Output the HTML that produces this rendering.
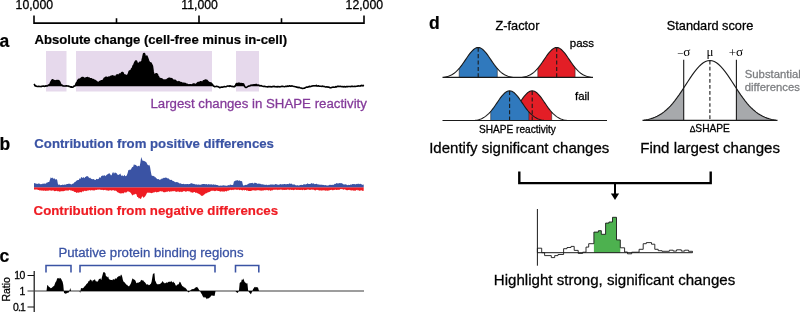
<!DOCTYPE html>
<html lang="en">
<head>
<meta charset="utf-8">
<title>SHAPE reactivity differences</title>
<style>
html,body{margin:0;padding:0;background:#fff;}
body{width:800px;height:312px;overflow:hidden;}
svg{display:block;font-family:"Liberation Sans", Arial, Helvetica, sans-serif;}
</style>
</head>
<body>
<svg width="800" height="312" viewBox="0 0 800 312">
<rect width="800" height="312" fill="#fff"/>
<path d="M34 15.6V23.1H364V15.6M116.5 18.2V23.1M199 15.6V23.1M281.5 18.2V23.1" fill="none" stroke="#000" stroke-width="1.6"/>
<text x="34.3" y="9.4" font-size="12.25" text-anchor="middle" stroke="#000" stroke-width="0.28">10,000</text>
<text x="199.6" y="9.4" font-size="12.25" text-anchor="middle" stroke="#000" stroke-width="0.28">11,000</text>
<text x="364.3" y="9.4" font-size="12.25" text-anchor="middle" stroke="#000" stroke-width="0.28">12,000</text>
<rect x="46" y="51" width="20.5" height="40.5" fill="#e6d9ec"/>
<rect x="76" y="51" width="136" height="40.5" fill="#e6d9ec"/>
<rect x="236" y="51" width="23" height="40.5" fill="#e6d9ec"/>
<path d="M34,86.3 L34,84 L34.8,85.08 L35.6,85.93 L36.4,86.12 L37.2,86.3 L38.0,86.3 L38.8,86.3 L39.6,86.3 L40.4,86.3 L41.2,86.3 L42.0,86.12 L42.8,86.2 L43.6,85.99 L44.4,86.3 L45.2,86.2 L46.0,85.72 L46.8,85.99 L47.6,85.67 L48.4,85.16 L49.2,84.86 L50.0,84.26 L50.8,82.1 L51.6,80.83 L52.4,79.71 L53.2,80.1 L54.0,80.49 L54.8,80.68 L55.6,80.96 L56.4,80.65 L57.2,80.83 L58.0,80.57 L58.8,80.72 L59.6,81.74 L60.4,83.62 L61.2,85.02 L62.0,85.1 L62.8,85.77 L63.6,85.92 L64.4,85.95 L65.2,86.0 L66.0,85.89 L66.8,85.91 L67.6,86.03 L68.4,85.98 L69.2,86.3 L70.0,86.3 L70.8,86.3 L71.6,86.3 L72.4,86.3 L73.2,86.3 L74.0,86.1 L74.8,85.9 L75.6,84.91 L76.4,82.92 L77.2,81.93 L78.0,80.2 L78.8,79.36 L79.6,79.39 L80.4,79.09 L81.2,78.15 L82.0,77.55 L82.8,77.44 L83.6,77.94 L84.4,78.6 L85.2,78.46 L86.0,78.03 L86.8,77.71 L87.6,77.54 L88.4,78.56 L89.2,78.11 L90.0,78.76 L90.8,78.89 L91.6,78.92 L92.4,79.79 L93.2,79.53 L94.0,80.39 L94.8,80.25 L95.6,81.07 L96.4,81.48 L97.2,82.17 L98.0,82.79 L98.8,82.34 L99.6,81.59 L100.4,81.78 L101.2,80.86 L102.0,80.67 L102.8,80.73 L103.6,79.66 L104.4,78.12 L105.2,78.19 L106.0,77.14 L106.8,77.46 L107.6,77.98 L108.4,77.25 L109.2,77.11 L110.0,77.43 L110.8,76.38 L111.6,76.28 L112.4,75.87 L113.2,76.66 L114.0,76.15 L114.8,77.61 L115.6,77.34 L116.4,75.38 L117.2,74.82 L118.0,76.06 L118.8,74.96 L119.6,74.07 L120.4,74.23 L121.2,73.56 L122.0,72.45 L122.8,72.54 L123.6,74.18 L124.4,75.15 L125.2,74.94 L126.0,75.96 L126.8,75.57 L127.6,75.31 L128.4,74.0 L129.2,71.48 L130.0,70.81 L130.8,71.18 L131.6,68.82 L132.4,68.23 L133.2,65.8 L134.0,64.63 L134.8,62.52 L135.6,61.05 L136.4,61.01 L137.2,63.24 L138.0,63.49 L138.8,63.68 L139.6,62.32 L140.4,62.33 L141.2,62.6 L142.0,60.69 L142.8,57.5 L143.6,53.86 L144.4,53.56 L145.2,55.98 L146.0,58.18 L146.8,55.96 L147.6,58.04 L148.4,60.29 L149.2,62.26 L150.0,63.39 L150.8,62.93 L151.6,64.46 L152.4,66.19 L153.2,71.91 L154.0,74.95 L154.8,75.01 L155.6,74.13 L156.4,73.87 L157.2,74.18 L158.0,76.11 L158.8,77.25 L159.6,79.2 L160.4,78.63 L161.2,78.9 L162.0,78.98 L162.8,79.92 L163.6,80.08 L164.4,80.34 L165.2,80.03 L166.0,80.29 L166.8,79.68 L167.6,79.0 L168.4,78.62 L169.2,78.38 L170.0,78.32 L170.8,78.92 L171.6,78.68 L172.4,79.44 L173.2,80.14 L174.0,80.45 L174.8,80.25 L175.6,80.76 L176.4,81.45 L177.2,81.96 L178.0,82.7 L178.8,81.7 L179.6,82.27 L180.4,82.85 L181.2,82.64 L182.0,82.98 L182.8,83.24 L183.6,83.25 L184.4,83.38 L185.2,83.45 L186.0,83.88 L186.8,84.19 L187.6,84.51 L188.4,85.18 L189.2,84.77 L190.0,85.27 L190.8,84.74 L191.6,85.09 L192.4,84.71 L193.2,84.02 L194.0,84.05 L194.8,84.3 L195.6,84.54 L196.4,84.45 L197.2,83.29 L198.0,82.61 L198.8,82.47 L199.6,82.45 L200.4,81.78 L201.2,81.86 L202.0,82.45 L202.8,81.84 L203.6,80.88 L204.4,80.74 L205.2,79.99 L206.0,80.36 L206.8,80.28 L207.6,81.19 L208.4,82.11 L209.2,82.63 L210.0,82.91 L210.8,82.93 L211.6,83.61 L212.4,84.63 L213.2,85.59 L214.0,86.3 L214.8,86.3 L215.6,86.3 L216.4,86.29 L217.2,86.3 L218.0,86.3 L218.8,86.3 L219.6,86.3 L220.4,86.3 L221.2,86.3 L222.0,86.3 L222.8,86.3 L223.6,86.3 L224.4,86.3 L225.2,86.3 L226.0,86.3 L226.8,86.3 L227.6,86.07 L228.4,85.96 L229.2,86.3 L230.0,85.72 L230.8,86.29 L231.6,86.3 L232.4,86.3 L233.2,86.3 L234.0,86.3 L234.8,86.3 L235.6,85.17 L236.4,83.47 L237.2,83.9 L238.0,83.4 L238.8,83.37 L239.6,83.34 L240.4,83.78 L241.2,83.6 L242.0,83.7 L242.8,83.8 L243.6,83.99 L244.4,85.96 L245.2,86.3 L246.0,86.3 L246.8,86.3 L247.6,86.3 L248.4,86.1 L249.2,85.98 L250.0,85.74 L250.8,85.2 L251.6,85.08 L252.4,84.94 L253.2,85.0 L254.0,84.75 L254.8,84.68 L255.6,84.65 L256.4,84.44 L257.2,84.96 L258.0,85.28 L258.8,84.97 L259.6,85.76 L260.4,85.82 L261.2,85.61 L262.0,85.97 L262.8,86.21 L263.6,86.3 L264.4,86.3 L265.2,86.3 L266.0,86.3 L266.8,86.3 L267.6,86.3 L268.4,86.3 L269.2,86.3 L270.0,86.3 L270.8,86.3 L271.6,86.3 L272.4,86.3 L273.2,86.3 L274.0,86.28 L274.8,86.3 L275.6,86.3 L276.4,86.3 L277.2,86.3 L278.0,86.3 L278.8,86.3 L279.6,86.3 L280.4,86.3 L281.2,86.3 L282.0,86.21 L282.8,86.3 L283.6,86.3 L284.4,86.3 L285.2,86.3 L286.0,86.18 L286.8,86.3 L287.6,85.99 L288.4,86.3 L289.2,85.88 L290.0,85.9 L290.8,86.23 L291.6,85.89 L292.4,85.95 L293.2,86.23 L294.0,86.3 L294.8,86.3 L295.6,86.3 L296.4,86.3 L297.2,86.3 L298.0,86.3 L298.8,86.3 L299.6,86.3 L300.4,86.3 L301.2,86.3 L302.0,86.3 L302.8,86.3 L303.6,86.3 L304.4,86.3 L305.2,86.3 L306.0,86.3 L306.8,86.3 L307.6,86.3 L308.4,86.3 L309.2,86.3 L310.0,86.3 L310.8,86.3 L311.6,86.15 L312.4,86.05 L313.2,85.69 L314.0,85.82 L314.8,85.72 L315.6,85.71 L316.4,85.36 L317.2,86.08 L318.0,85.91 L318.8,85.92 L319.6,86.24 L320.4,86.18 L321.2,86.21 L322.0,86.3 L322.8,86.12 L323.6,86.3 L324.4,86.3 L325.2,86.3 L326.0,86.3 L326.8,86.3 L327.6,86.3 L328.4,86.3 L329.2,86.3 L330.0,86.3 L330.8,86.3 L331.6,86.3 L332.4,86.3 L333.2,86.3 L334.0,86.3 L334.8,86.3 L335.6,86.3 L336.4,86.3 L337.2,86.3 L338.0,86.3 L338.8,86.3 L339.6,86.3 L340.4,86.3 L341.2,86.3 L342.0,86.3 L342.8,86.3 L343.6,86.3 L344.4,86.3 L345.2,86.3 L346.0,86.3 L346.8,86.3 L347.6,86.3 L348.4,86.3 L349.2,86.3 L350.0,86.3 L350.8,86.3 L351.6,86.3 L352.4,86.3 L353.2,86.3 L354.0,86.3 L354.8,86.3 L355.6,86.3 L356.4,86.23 L357.2,86.3 L358.0,85.83 L358.8,86.07 L359.6,86.03 L360.4,86.0 L361.2,85.5 L362.0,85.38 L362.8,85.7 L364,85.3 L364,86.3Z" fill="#000"/>
<path d="M34,84 34.8,85.08 35.6,85.93 36.4,86.12 37.2,86.5 38.0,86.55 38.8,86.31 39.6,86.51 40.4,86.55 41.2,86.6 42.0,86.12 42.8,86.2 43.6,85.99 44.4,86.35 45.2,86.2 46.0,85.72 46.8,85.99 47.6,85.67 48.4,85.16 49.2,84.86 50.0,84.26 50.8,82.1 51.6,80.83 52.4,79.71 53.2,80.1 54.0,80.49 54.8,80.68 55.6,80.96 56.4,80.65 57.2,80.83 58.0,80.57 58.8,80.72 59.6,81.74 60.4,83.62 61.2,85.02 62.0,85.1 62.8,85.77 63.6,85.92 64.4,85.95 65.2,86.0 66.0,85.89 66.8,85.91 67.6,86.03 68.4,85.98 69.2,86.53 70.0,86.59 70.8,87.15 71.6,86.87 72.4,87.15 73.2,86.94 74.0,86.1 74.8,85.9 75.6,84.91 76.4,82.92 77.2,81.93 78.0,80.2 78.8,79.36 79.6,79.39 80.4,79.09 81.2,78.15 82.0,77.55 82.8,77.44 83.6,77.94 84.4,78.6 85.2,78.46 86.0,78.03 86.8,77.71 87.6,77.54 88.4,78.56 89.2,78.11 90.0,78.76 90.8,78.89 91.6,78.92 92.4,79.79 93.2,79.53 94.0,80.39 94.8,80.25 95.6,81.07 96.4,81.48 97.2,82.17 98.0,82.79 98.8,82.34 99.6,81.59 100.4,81.78 101.2,80.86 102.0,80.67 102.8,80.73 103.6,79.66 104.4,78.12 105.2,78.19 106.0,77.14 106.8,77.46 107.6,77.98 108.4,77.25 109.2,77.11 110.0,77.43 110.8,76.38 111.6,76.28 112.4,75.87 113.2,76.66 114.0,76.15 114.8,77.61 115.6,77.34 116.4,75.38 117.2,74.82 118.0,76.06 118.8,74.96 119.6,74.07 120.4,74.23 121.2,73.56 122.0,72.45 122.8,72.54 123.6,74.18 124.4,75.15 125.2,74.94 126.0,75.96 126.8,75.57 127.6,75.31 128.4,74.0 129.2,71.48 130.0,70.81 130.8,71.18 131.6,68.82 132.4,68.23 133.2,65.8 134.0,64.63 134.8,62.52 135.6,61.05 136.4,61.01 137.2,63.24 138.0,63.49 138.8,63.68 139.6,62.32 140.4,62.33 141.2,62.6 142.0,60.69 142.8,57.5 143.6,53.86 144.4,53.56 145.2,55.98 146.0,58.18 146.8,55.96 147.6,58.04 148.4,60.29 149.2,62.26 150.0,63.39 150.8,62.93 151.6,64.46 152.4,66.19 153.2,71.91 154.0,74.95 154.8,75.01 155.6,74.13 156.4,73.87 157.2,74.18 158.0,76.11 158.8,77.25 159.6,79.2 160.4,78.63 161.2,78.9 162.0,78.98 162.8,79.92 163.6,80.08 164.4,80.34 165.2,80.03 166.0,80.29 166.8,79.68 167.6,79.0 168.4,78.62 169.2,78.38 170.0,78.32 170.8,78.92 171.6,78.68 172.4,79.44 173.2,80.14 174.0,80.45 174.8,80.25 175.6,80.76 176.4,81.45 177.2,81.96 178.0,82.7 178.8,81.7 179.6,82.27 180.4,82.85 181.2,82.64 182.0,82.98 182.8,83.24 183.6,83.25 184.4,83.38 185.2,83.45 186.0,83.88 186.8,84.19 187.6,84.51 188.4,85.18 189.2,84.77 190.0,85.27 190.8,84.74 191.6,85.09 192.4,84.71 193.2,84.02 194.0,84.05 194.8,84.3 195.6,84.54 196.4,84.45 197.2,83.29 198.0,82.61 198.8,82.47 199.6,82.45 200.4,81.78 201.2,81.86 202.0,82.45 202.8,81.84 203.6,80.88 204.4,80.74 205.2,79.99 206.0,80.36 206.8,80.28 207.6,81.19 208.4,82.11 209.2,82.63 210.0,82.91 210.8,82.93 211.6,83.61 212.4,84.63 213.2,85.59 214.0,86.3 214.8,86.73 215.6,86.52 216.4,86.29 217.2,86.51 218.0,86.65 218.8,87.07 219.6,87.65 220.4,87.37 221.2,87.17 222.0,87.14 222.8,87.12 223.6,86.85 224.4,86.54 225.2,86.69 226.0,86.73 226.8,86.35 227.6,86.07 228.4,85.96 229.2,86.35 230.0,85.72 230.8,86.29 231.6,86.36 232.4,86.36 233.2,86.82 234.0,86.5 234.8,86.73 235.6,85.17 236.4,83.47 237.2,83.9 238.0,83.4 238.8,83.37 239.6,83.34 240.4,83.78 241.2,83.6 242.0,83.7 242.8,83.8 243.6,83.99 244.4,85.96 245.2,87.15 246.0,87.4 246.8,87.18 247.6,86.6 248.4,86.1 249.2,85.98 250.0,85.74 250.8,85.2 251.6,85.08 252.4,84.94 253.2,85.0 254.0,84.75 254.8,84.68 255.6,84.65 256.4,84.44 257.2,84.96 258.0,85.28 258.8,84.97 259.6,85.76 260.4,85.82 261.2,85.61 262.0,85.97 262.8,86.21 263.6,86.51 264.4,86.33 265.2,86.55 266.0,86.77 266.8,86.74 267.6,86.86 268.4,86.62 269.2,86.81 270.0,86.61 270.8,86.86 271.6,86.84 272.4,86.65 273.2,86.62 274.0,86.28 274.8,86.65 275.6,86.75 276.4,86.83 277.2,86.64 278.0,86.88 278.8,86.55 279.6,86.87 280.4,86.79 281.2,86.43 282.0,86.21 282.8,86.38 283.6,86.49 284.4,86.7 285.2,86.57 286.0,86.18 286.8,86.55 287.6,85.99 288.4,86.34 289.2,85.88 290.0,85.9 290.8,86.23 291.6,85.89 292.4,85.95 293.2,86.23 294.0,86.43 294.8,86.59 295.6,86.72 296.4,87.15 297.2,87.13 298.0,87.7 298.8,87.32 299.6,87.61 300.4,87.99 301.2,87.95 302.0,88.4 302.8,88.47 303.6,88.24 304.4,88.22 305.2,87.77 306.0,87.34 306.8,87.12 307.6,87.15 308.4,86.97 309.2,86.38 310.0,86.61 310.8,86.55 311.6,86.15 312.4,86.05 313.2,85.69 314.0,85.82 314.8,85.72 315.6,85.71 316.4,85.36 317.2,86.08 318.0,85.91 318.8,85.92 319.6,86.24 320.4,86.18 321.2,86.21 322.0,86.41 322.8,86.12 323.6,86.48 324.4,86.49 325.2,86.92 326.0,87.07 326.8,86.81 327.6,87.1 328.4,87.01 329.2,87.32 330.0,87.68 330.8,87.84 331.6,87.46 332.4,87.2 333.2,86.98 334.0,87.18 334.8,87.29 335.6,86.68 336.4,86.99 337.2,86.41 338.0,86.41 338.8,86.35 339.6,86.55 340.4,86.33 341.2,86.43 342.0,86.67 342.8,86.43 343.6,86.9 344.4,86.6 345.2,86.89 346.0,86.64 346.8,86.53 347.6,86.66 348.4,86.56 349.2,86.52 350.0,86.55 350.8,86.59 351.6,86.34 352.4,86.34 353.2,86.56 354.0,86.48 354.8,86.34 355.6,86.45 356.4,86.23 357.2,86.3 358.0,85.83 358.8,86.07 359.6,86.03 360.4,86.0 361.2,85.5 362.0,85.38 362.8,85.7 364,85.3" fill="none" stroke="#000" stroke-width="1.6" stroke-linejoin="round"/>
<text x="-0.5" y="46.5" font-size="17.5" font-weight="bold" stroke="#000" stroke-width="0.2">a</text>
<text x="34.4" y="44.3" font-size="13.15" font-weight="bold" stroke="#000" stroke-width="0.2">Absolute change (cell-free minus in-cell)</text>
<text x="150.4" y="107.8" font-size="13.25" fill="#843a9a" stroke="#843a9a" stroke-width="0.28">Largest changes in SHAPE reactivity</text>
<text x="-0.5" y="149.5" font-size="17.5" font-weight="bold" stroke="#000" stroke-width="0.2">b</text>
<text x="34.3" y="148" font-size="13.2" font-weight="bold" fill="#3a53a4" stroke="#3a53a4" stroke-width="0.2">Contribution from positive differences</text>
<text x="33.6" y="215.3" font-size="13.25" font-weight="bold" fill="#ef1c23" stroke="#ef1c23" stroke-width="0.2">Contribution from negative differences</text>
<path d="M34,187.3 L34,189.3 L34.8,189.68 L35.6,189.55 L36.4,189.5 L37.2,189.41 L38.0,190.11 L38.8,190.07 L39.6,190.47 L40.4,190.22 L41.2,190.65 L42.0,190.25 L42.8,190.82 L43.6,190.82 L44.4,190.58 L45.2,190.77 L46.0,190.98 L46.8,190.4 L47.6,190.65 L48.4,190.79 L49.2,190.18 L50.0,190.58 L50.8,190.57 L51.6,190.83 L52.4,190.44 L53.2,190.3 L54.0,191.1 L54.8,191.21 L55.6,190.94 L56.4,190.67 L57.2,190.88 L58.0,191.45 L58.8,191.07 L59.6,191.79 L60.4,191.4 L61.2,190.98 L62.0,191.47 L62.8,190.95 L63.6,191.34 L64.4,191.1 L65.2,190.51 L66.0,190.43 L66.8,190.48 L67.6,190.58 L68.4,190.74 L69.2,189.87 L70.0,190.17 L70.8,190.6 L71.6,190.51 L72.4,190.99 L73.2,190.67 L74.0,191.71 L74.8,191.93 L75.6,192.01 L76.4,193.01 L77.2,192.55 L78.0,192.4 L78.8,192.78 L79.6,192.13 L80.4,191.97 L81.2,192.51 L82.0,192.03 L82.8,191.05 L83.6,191.7 L84.4,190.69 L85.2,190.83 L86.0,191.2 L86.8,190.82 L87.6,190.41 L88.4,190.38 L89.2,190.3 L90.0,189.96 L90.8,190.76 L91.6,189.89 L92.4,190.23 L93.2,190.53 L94.0,190.21 L94.8,190.53 L95.6,189.68 L96.4,190.09 L97.2,189.81 L98.0,189.43 L98.8,189.7 L99.6,189.46 L100.4,189.87 L101.2,189.94 L102.0,189.81 L102.8,189.88 L103.6,190.18 L104.4,190.02 L105.2,189.83 L106.0,190.53 L106.8,190.18 L107.6,190.49 L108.4,190.87 L109.2,190.38 L110.0,190.32 L110.8,190.33 L111.6,190.69 L112.4,190.37 L113.2,190.17 L114.0,190.26 L114.8,190.98 L115.6,190.59 L116.4,191.01 L117.2,191.92 L118.0,192.44 L118.8,192.78 L119.6,193.36 L120.4,193.5 L121.2,193.14 L122.0,193.62 L122.8,193.12 L123.6,193.41 L124.4,192.37 L125.2,192.43 L126.0,192.53 L126.8,192.18 L127.6,191.3 L128.4,191.61 L129.2,191.69 L130.0,192.17 L130.8,193.08 L131.6,194.34 L132.4,195.41 L133.2,194.88 L134.0,194.14 L134.8,194.62 L135.6,193.73 L136.4,194.21 L137.2,196.92 L138.0,196.98 L138.8,198.47 L139.6,197.9 L140.4,199.05 L141.2,198.44 L142.0,196.41 L142.8,196.55 L143.6,197.93 L144.4,197.12 L145.2,196.2 L146.0,195.0 L146.8,193.16 L147.6,192.49 L148.4,192.73 L149.2,192.49 L150.0,193.11 L150.8,192.68 L151.6,193.2 L152.4,193.04 L153.2,192.3 L154.0,192.8 L154.8,191.99 L155.6,191.87 L156.4,192.38 L157.2,191.96 L158.0,192.26 L158.8,191.75 L159.6,191.62 L160.4,190.93 L161.2,191.79 L162.0,191.04 L162.8,191.71 L163.6,192.13 L164.4,192.21 L165.2,192.23 L166.0,191.65 L166.8,191.84 L167.6,191.87 L168.4,191.06 L169.2,191.86 L170.0,191.74 L170.8,191.24 L171.6,191.6 L172.4,191.24 L173.2,191.06 L174.0,191.53 L174.8,190.83 L175.6,191.69 L176.4,191.97 L177.2,191.28 L178.0,192.1 L178.8,191.21 L179.6,192.17 L180.4,191.51 L181.2,192.21 L182.0,191.52 L182.8,191.99 L183.6,190.92 L184.4,190.91 L185.2,191.66 L186.0,191.55 L186.8,191.52 L187.6,191.04 L188.4,191.27 L189.2,191.57 L190.0,191.28 L190.8,192.48 L191.6,192.32 L192.4,192.64 L193.2,192.45 L194.0,192.11 L194.8,191.96 L195.6,193.0 L196.4,192.38 L197.2,193.16 L198.0,193.25 L198.8,194.09 L199.6,194.2 L200.4,194.75 L201.2,195.94 L202.0,195.42 L202.8,195.95 L203.6,194.89 L204.4,194.54 L205.2,193.57 L206.0,193.4 L206.8,192.95 L207.6,192.53 L208.4,192.15 L209.2,191.98 L210.0,191.74 L210.8,191.11 L211.6,190.75 L212.4,190.81 L213.2,190.64 L214.0,190.87 L214.8,191.13 L215.6,190.95 L216.4,190.6 L217.2,190.78 L218.0,190.88 L218.8,191.06 L219.6,191.13 L220.4,191.84 L221.2,191.36 L222.0,191.48 L222.8,191.53 L223.6,191.46 L224.4,191.63 L225.2,191.12 L226.0,191.27 L226.8,191.42 L227.6,190.45 L228.4,190.74 L229.2,190.35 L230.0,189.9 L230.8,189.8 L231.6,190.37 L232.4,189.72 L233.2,190.16 L234.0,189.56 L234.8,189.71 L235.6,189.41 L236.4,189.84 L237.2,190.04 L238.0,189.57 L238.8,189.85 L239.6,190.15 L240.4,189.67 L241.2,189.9 L242.0,190.2 L242.8,190.4 L243.6,189.86 L244.4,190.39 L245.2,189.97 L246.0,190.04 L246.8,190.94 L247.6,190.13 L248.4,191.05 L249.2,190.97 L250.0,190.98 L250.8,190.95 L251.6,190.79 L252.4,190.36 L253.2,190.43 L254.0,190.12 L254.8,190.65 L255.6,190.56 L256.4,190.56 L257.2,190.04 L258.0,190.38 L258.8,190.07 L259.6,190.57 L260.4,190.53 L261.2,190.76 L262.0,190.49 L262.8,190.47 L263.6,190.55 L264.4,189.93 L265.2,190.39 L266.0,189.87 L266.8,190.18 L267.6,189.95 L268.4,190.71 L269.2,189.87 L270.0,190.69 L270.8,190.67 L271.6,190.16 L272.4,190.48 L273.2,189.74 L274.0,189.78 L274.8,189.63 L275.6,189.64 L276.4,189.55 L277.2,190.22 L278.0,189.55 L278.8,189.94 L279.6,189.63 L280.4,189.49 L281.2,189.73 L282.0,189.53 L282.8,190.2 L283.6,189.7 L284.4,189.88 L285.2,189.85 L286.0,189.91 L286.8,189.78 L287.6,189.61 L288.4,189.49 L289.2,190.13 L290.0,189.54 L290.8,189.76 L291.6,190.06 L292.4,189.86 L293.2,190.18 L294.0,190.06 L294.8,189.81 L295.6,189.48 L296.4,189.88 L297.2,189.78 L298.0,190.1 L298.8,189.83 L299.6,189.96 L300.4,190.06 L301.2,189.78 L302.0,190.09 L302.8,190.14 L303.6,189.51 L304.4,190.15 L305.2,190.11 L306.0,190.1 L306.8,189.66 L307.6,189.59 L308.4,189.49 L309.2,189.69 L310.0,190.1 L310.8,189.72 L311.6,189.46 L312.4,189.75 L313.2,189.6 L314.0,190.11 L314.8,190.28 L315.6,190.46 L316.4,189.75 L317.2,190.05 L318.0,189.86 L318.8,190.61 L319.6,190.59 L320.4,190.32 L321.2,190.72 L322.0,190.32 L322.8,190.55 L323.6,190.29 L324.4,190.18 L325.2,190.75 L326.0,190.61 L326.8,190.38 L327.6,190.64 L328.4,190.44 L329.2,190.57 L330.0,189.9 L330.8,189.91 L331.6,189.85 L332.4,190.24 L333.2,190.3 L334.0,189.75 L334.8,190.0 L335.6,189.62 L336.4,190.06 L337.2,190.09 L338.0,189.45 L338.8,190.05 L339.6,189.65 L340.4,189.09 L341.2,189.13 L342.0,188.85 L342.8,189.41 L343.6,189.7 L344.4,189.26 L345.2,189.4 L346.0,189.91 L346.8,190.17 L347.6,190.14 L348.4,189.96 L349.2,189.72 L350.0,190.24 L350.8,190.16 L351.6,190.54 L352.4,190.37 L353.2,190.52 L354.0,190.73 L354.8,190.42 L355.6,190.68 L356.4,190.09 L357.2,189.84 L358.0,190.65 L358.8,189.94 L359.6,190.93 L360.4,190.5 L361.2,190.19 L362.0,190.48 L362.8,191.0 L363.7,190.8 L363.7,187.3Z" fill="#ef1c23"/>
<path d="M34,187.3 L34,183 L34.8,183.35 L35.6,183.5 L36.4,183.74 L37.2,183.64 L38.0,183.91 L38.8,183.14 L39.6,183.67 L40.4,184.22 L41.2,184.04 L42.0,184.37 L42.8,183.54 L43.6,183.77 L44.4,183.46 L45.2,183.64 L46.0,183.57 L46.8,182.6 L47.6,182.4 L48.4,182.06 L49.2,181.9 L50.0,179.38 L50.8,177.36 L51.6,178.22 L52.4,177.42 L53.2,178.64 L54.0,178.47 L54.8,178.43 L55.6,179.79 L56.4,179.0 L57.2,180.03 L58.0,184.45 L58.8,184.73 L59.6,184.62 L60.4,185.34 L61.2,184.88 L62.0,184.9 L62.8,184.39 L63.6,184.94 L64.4,184.62 L65.2,184.77 L66.0,184.61 L66.8,183.97 L67.6,183.92 L68.4,183.74 L69.2,183.83 L70.0,183.86 L70.8,184.17 L71.6,184.54 L72.4,183.75 L73.2,183.77 L74.0,182.83 L74.8,181.99 L75.6,181.78 L76.4,180.78 L77.2,180.16 L78.0,179.98 L78.8,179.88 L79.6,178.37 L80.4,179.04 L81.2,176.92 L82.0,177.41 L82.8,177.95 L83.6,177.05 L84.4,178.15 L85.2,176.88 L86.0,176.63 L86.8,175.89 L87.6,176.16 L88.4,176.69 L89.2,178.31 L90.0,177.54 L90.8,178.59 L91.6,179.04 L92.4,179.35 L93.2,178.88 L94.0,179.3 L94.8,179.93 L95.6,180.07 L96.4,178.75 L97.2,179.26 L98.0,178.94 L98.8,178.65 L99.6,176.98 L100.4,178.01 L101.2,176.13 L102.0,175.72 L102.8,175.4 L103.6,175.86 L104.4,174.94 L105.2,176.13 L106.0,175.58 L106.8,174.76 L107.6,174.36 L108.4,173.69 L109.2,173.29 L110.0,173.84 L110.8,175.25 L111.6,175.34 L112.4,172.93 L113.2,172.03 L114.0,173.75 L114.8,172.62 L115.6,172.76 L116.4,173.03 L117.2,174.28 L118.0,175.11 L118.8,174.82 L119.6,174.25 L120.4,173.56 L121.2,175.95 L122.0,175.19 L122.8,175.79 L123.6,176.2 L124.4,174.84 L125.2,175.91 L126.0,176.3 L126.8,175.34 L127.6,173.2 L128.4,169.91 L129.2,170.25 L130.0,169.18 L130.8,170.03 L131.6,167.89 L132.4,167.08 L133.2,166.79 L134.0,164.07 L134.8,165.2 L135.6,164.77 L136.4,165.57 L137.2,166.43 L138.0,165.94 L138.8,165.84 L139.6,166.55 L140.4,162.45 L141.2,156.89 L142.0,159.25 L142.8,161.05 L143.6,160.72 L144.4,161.1 L145.2,161.7 L146.0,161.76 L146.8,163.13 L147.6,164.83 L148.4,165.46 L149.2,164.81 L150.0,166.78 L150.8,171.45 L151.6,175.48 L152.4,175.75 L153.2,176.19 L154.0,175.76 L154.8,177.14 L155.6,177.26 L156.4,178.18 L157.2,179.0 L158.0,179.27 L158.8,178.91 L159.6,180.02 L160.4,179.61 L161.2,179.31 L162.0,178.3 L162.8,178.67 L163.6,177.82 L164.4,178.08 L165.2,177.38 L166.0,177.87 L166.8,177.71 L167.6,178.41 L168.4,178.33 L169.2,179.27 L170.0,179.67 L170.8,180.05 L171.6,179.67 L172.4,180.65 L173.2,181.07 L174.0,181.23 L174.8,181.97 L175.6,182.23 L176.4,181.99 L177.2,182.27 L178.0,182.14 L178.8,183.12 L179.6,183.48 L180.4,183.28 L181.2,183.72 L182.0,183.88 L182.8,184.02 L183.6,183.63 L184.4,184.26 L185.2,184.08 L186.0,184.15 L186.8,183.93 L187.6,184.12 L188.4,184.21 L189.2,183.98 L190.0,183.96 L190.8,183.19 L191.6,183.22 L192.4,183.54 L193.2,183.94 L194.0,183.74 L194.8,184.37 L195.6,184.52 L196.4,184.15 L197.2,184.63 L198.0,184.52 L198.8,184.47 L199.6,184.64 L200.4,184.75 L201.2,184.43 L202.0,184.23 L202.8,183.88 L203.6,184.07 L204.4,183.94 L205.2,184.25 L206.0,184.33 L206.8,184.12 L207.6,184.81 L208.4,184.06 L209.2,184.42 L210.0,184.31 L210.8,184.42 L211.6,184.16 L212.4,184.84 L213.2,184.54 L214.0,184.35 L214.8,184.95 L215.6,184.61 L216.4,185.09 L217.2,185.02 L218.0,185.32 L218.8,185.71 L219.6,185.7 L220.4,185.44 L221.2,185.74 L222.0,185.61 L222.8,185.4 L223.6,185.22 L224.4,185.57 L225.2,185.55 L226.0,185.86 L226.8,185.77 L227.6,185.39 L228.4,185.08 L229.2,185.42 L230.0,184.59 L230.8,184.67 L231.6,185.05 L232.4,185.1 L233.2,184.7 L234.0,181.16 L234.8,181.33 L235.6,180.52 L236.4,180.49 L237.2,180.19 L238.0,180.23 L238.8,181.07 L239.6,180.27 L240.4,181.11 L241.2,181.28 L242.0,181.12 L242.8,184.39 L243.6,185.78 L244.4,185.26 L245.2,185.06 L246.0,184.85 L246.8,185.02 L247.6,184.19 L248.4,183.68 L249.2,183.62 L250.0,183.03 L250.8,183.36 L251.6,183.02 L252.4,182.83 L253.2,183.41 L254.0,183.53 L254.8,182.62 L255.6,183.07 L256.4,182.89 L257.2,183.79 L258.0,183.87 L258.8,183.52 L259.6,183.7 L260.4,183.73 L261.2,184.6 L262.0,184.06 L262.8,184.45 L263.6,184.43 L264.4,184.68 L265.2,184.74 L266.0,184.96 L266.8,184.53 L267.6,185.17 L268.4,184.78 L269.2,184.88 L270.0,184.61 L270.8,184.47 L271.6,184.58 L272.4,184.47 L273.2,184.38 L274.0,184.72 L274.8,184.58 L275.6,184.09 L276.4,184.28 L277.2,184.46 L278.0,184.87 L278.8,184.84 L279.6,184.54 L280.4,184.02 L281.2,184.6 L282.0,184.18 L282.8,184.22 L283.6,184.24 L284.4,184.12 L285.2,183.98 L286.0,184.38 L286.8,183.89 L287.6,183.9 L288.4,184.29 L289.2,183.59 L290.0,183.61 L290.8,184.04 L291.6,183.47 L292.4,184.41 L293.2,184.48 L294.0,184.44 L294.8,184.52 L295.6,185.14 L296.4,185.44 L297.2,185.01 L298.0,185.48 L298.8,185.44 L299.6,185.3 L300.4,185.06 L301.2,184.82 L302.0,185.07 L302.8,185.07 L303.6,184.22 L304.4,184.16 L305.2,184.49 L306.0,184.27 L306.8,184.05 L307.6,183.35 L308.4,183.91 L309.2,184.06 L310.0,183.99 L310.8,183.7 L311.6,183.06 L312.4,183.84 L313.2,183.22 L314.0,183.64 L314.8,184.13 L315.6,184.1 L316.4,183.76 L317.2,184.11 L318.0,184.87 L318.8,184.3 L319.6,184.8 L320.4,184.73 L321.2,184.62 L322.0,185.1 L322.8,184.73 L323.6,184.88 L324.4,185.2 L325.2,185.06 L326.0,185.15 L326.8,185.46 L327.6,185.49 L328.4,185.51 L329.2,184.8 L330.0,184.94 L330.8,184.74 L331.6,184.89 L332.4,184.69 L333.2,184.98 L334.0,184.39 L334.8,183.69 L335.6,183.89 L336.4,183.1 L337.2,183.45 L338.0,183.21 L338.8,183.54 L339.6,183.1 L340.4,183.22 L341.2,183.06 L342.0,183.55 L342.8,183.67 L343.6,184.53 L344.4,184.56 L345.2,184.33 L346.0,184.52 L346.8,184.74 L347.6,185.15 L348.4,184.68 L349.2,185.03 L350.0,184.88 L350.8,184.29 L351.6,184.7 L352.4,184.09 L353.2,184.01 L354.0,184.34 L354.8,183.91 L355.6,184.4 L356.4,183.98 L357.2,183.84 L358.0,184.28 L358.8,183.56 L359.6,184.21 L360.4,183.65 L361.2,183.88 L362.0,184.74 L362.8,184.63 L363.7,184.5 L363.7,187.3Z" fill="#3a53a4"/>
<text x="-0.5" y="262.4" font-size="17.5" font-weight="bold" stroke="#000" stroke-width="0.2">c</text>
<text x="58.4" y="256.7" font-size="13.22" fill="#3a53a4" stroke="#3a53a4" stroke-width="0.28">Putative protein binding regions</text>
<path d="M46 272.5V265.5H71V272.5" fill="none" stroke="#3a53a4" stroke-width="1.55"/>
<path d="M80 272.5V265.5H215V272.5" fill="none" stroke="#3a53a4" stroke-width="1.55"/>
<path d="M235.5 272.5V265.5H258.8V272.5" fill="none" stroke="#3a53a4" stroke-width="1.55"/>
<path d="M34.2 271V312M27.5 275.5H34.2M27.5 307H34.2" fill="none" stroke="#111" stroke-width="1.2"/>
<path d="M27.5 291.0H364" fill="none" stroke="#3c3c3c" stroke-width="1.2"/>
<text x="25" y="279.3" font-size="10.4" text-anchor="end" letter-spacing="-0.4" stroke="#000" stroke-width="0.28">10</text>
<text x="25" y="294.9" font-size="10.4" text-anchor="end" letter-spacing="-0.4" stroke="#000" stroke-width="0.28">1</text>
<text x="25" y="310.5" font-size="10.4" text-anchor="end" letter-spacing="-0.8" stroke="#000" stroke-width="0.28">0.1</text>
<text transform="translate(10.2 289.3) rotate(-90)" font-size="10.5" text-anchor="middle" stroke="#000" stroke-width="0.28">Ratio</text>
<path d="M46.5,291.0 L47.2,285.21 L47.9,285.3 L48.6,286.59 L49.3,286.95 L50.0,287.61 L50.7,288.15 L51.4,288.08 L52.1,287.51 L52.8,286.82 L53.5,286.16 L54.2,285.75 L54.9,283.65 L55.6,281.92 L56.3,281.2 L57.0,278.9 L57.7,278.06 L58.4,277.92 L59.1,278.89 L59.8,277.86 L60.5,278.22 L61.2,279.06 L61.9,280.42 L62.6,281.79 L63.3,284.95 L64.0,293.04 L64.7,293.17 L65.4,293.65 L66.1,293.39 L66.8,293.25 L67.5,292.75 L68.2,292.8 L68.9,292.35 L69.6,290.25 L70.3,288.08 L71,291.0Z" fill="#000"/>
<path d="M79.5,291.0 L80.2,292.9 L80.9,288.54 L81.6,287.88 L82.3,288.16 L83.0,288.21 L83.7,287.55 L84.4,286.61 L85.1,285.91 L85.8,284.91 L86.5,283.9 L87.2,283.53 L87.9,282.78 L88.6,280.9 L89.3,281.21 L90.0,279.51 L90.7,279.87 L91.4,279.9 L92.1,281.71 L92.8,280.25 L93.5,280.33 L94.2,280.02 L94.9,279.12 L95.6,280.91 L96.3,281.85 L97.0,280.87 L97.7,281.91 L98.4,280.17 L99.1,278.68 L99.8,278.96 L100.5,278.26 L101.2,280.22 L101.9,277.2 L102.6,274.73 L103.3,272.05 L104.0,272.4 L104.7,272.33 L105.4,273.29 L106.1,276.93 L106.8,275.78 L107.5,277.39 L108.2,276.55 L108.9,278.9 L109.6,279.4 L110.3,279.65 L111.0,280.0 L111.7,280.0 L112.4,280.33 L113.1,279.02 L113.8,279.5 L114.5,279.77 L115.2,277.99 L115.9,278.97 L116.6,278.54 L117.3,277.15 L118.0,276.7 L118.7,276.36 L119.4,275.68 L120.1,276.68 L120.8,274.81 L121.5,274.86 L122.2,276.71 L122.9,280.11 L123.6,281.74 L124.3,281.94 L125.0,282.99 L125.7,283.77 L126.4,284.7 L127.1,284.76 L127.8,285.71 L128.5,286.18 L129.2,286.37 L129.9,285.03 L130.6,284.1 L131.3,282.27 L132.0,279.85 L132.7,278.34 L133.4,279.19 L134.1,279.52 L134.8,280.06 L135.5,280.79 L136.2,282.68 L136.9,283.3 L137.6,282.52 L138.3,282.63 L139.0,282.27 L139.7,281.96 L140.4,281.4 L141.1,279.73 L141.8,280.15 L142.5,280.38 L143.2,280.36 L143.9,281.56 L144.6,281.89 L145.3,282.77 L146.0,283.68 L146.7,284.81 L147.4,284.3 L148.1,284.48 L148.8,285.16 L149.5,284.95 L150.2,284.23 L150.9,283.84 L151.6,281.83 L152.3,277.49 L153.0,273.44 L153.7,273.78 L154.4,273.12 L155.1,280.4 L155.8,281.75 L156.5,283.45 L157.2,284.25 L157.9,284.27 L158.6,284.27 L159.3,283.97 L160.0,284.35 L160.7,283.26 L161.4,283.03 L162.1,281.45 L162.8,281.19 L163.5,282.41 L164.2,282.84 L164.9,283.47 L165.6,283.0 L166.3,282.57 L167.0,282.62 L167.7,282.85 L168.4,281.85 L169.1,282.03 L169.8,281.44 L170.5,282.06 L171.2,280.76 L171.9,282.02 L172.6,282.61 L173.3,281.42 L174.0,282.64 L174.7,283.06 L175.4,284.64 L176.1,285.99 L176.8,284.93 L177.5,284.39 L178.2,284.4 L178.9,283.67 L179.6,281.85 L180.3,282.0 L181.0,283.48 L181.7,284.89 L182.4,286.15 L183.1,286.22 L183.8,287.22 L184.5,287.5 L185.2,287.63 L185.9,288.45 L186.6,289.31 L187.3,290.69 L188.0,292.16 L188.7,292.34 L189.4,291.82 L190.1,290.81 L190.8,289.9 L191.5,289.4 L192.2,288.95 L192.9,289.15 L193.6,288.93 L194.3,288.53 L195.0,288.21 L195.7,287.27 L196.4,287.27 L197.1,286.73 L197.8,288.0 L198.5,288.81 L199.2,290.29 L199.9,290.82 L200.6,292.29 L201.3,293.48 L202.0,294.61 L202.7,296.28 L203.4,296.98 L204.1,297.93 L204.8,296.86 L205.5,297.5 L206.2,298.2 L206.9,299.21 L207.6,298.37 L208.3,298.6 L209.0,298.01 L209.7,297.58 L210.4,297.11 L211.1,295.71 L211.8,295.38 L212.5,295.52 L213.2,296.06 L213.9,295.56 L214.6,296.0 L215.5,291.0Z" fill="#000"/>
<path d="M235.5,291.0 L236.2,292.02 L236.9,292.44 L237.6,292.97 L238.3,291.9 L239.0,290.36 L239.7,283.08 L240.4,282.17 L241.1,282.37 L241.8,279.51 L242.5,279.91 L243.2,278.44 L243.9,280.04 L244.6,281.92 L245.3,282.44 L246.0,283.13 L246.7,283.49 L247.4,283.32 L248.1,290.36 L248.8,291.63 L249.5,292.74 L250.2,293.55 L250.9,294.22 L251.6,292.85 L252.3,291.24 L253.0,289.16 L253.7,288.29 L254.4,287.16 L255.1,286.78 L255.8,287.39 L256.5,287.05 L257.2,287.49 L257.9,287.3 L259,291.0Z" fill="#000"/>
<text x="429" y="29.3" font-size="17.5" font-weight="bold" stroke="#000" stroke-width="0.2">d</text>
<text x="517.5" y="30" font-size="12.75" text-anchor="middle" stroke="#000" stroke-width="0.28">Z-factor</text>
<text x="710" y="30" font-size="12.75" text-anchor="middle" stroke="#000" stroke-width="0.28">Standard score</text>
<path d="M459.2,77.3 L459.2,68.39 L460.15,67.24 L461.11,66.03 L462.06,64.75 L463.01,63.42 L463.96,62.05 L464.91,60.66 L465.87,59.25 L466.82,57.85 L467.77,56.46 L468.73,55.11 L469.68,53.82 L470.63,52.61 L471.58,51.49 L472.53,50.48 L473.49,49.59 L474.44,48.85 L475.39,48.26 L476.35,47.83 L477.3,47.58 L478.25,47.5 L479.2,47.6 L480.15,47.87 L481.11,48.31 L482.06,48.92 L483.01,49.68 L483.97,50.58 L484.92,51.6 L485.87,52.73 L486.82,53.96 L487.77,55.25 L488.73,56.61 L489.68,57.99 L490.63,59.4 L491.59,60.81 L492.54,62.2 L493.49,63.56 L494.44,64.89 L495.39,66.16 L496.35,67.36 L497.3,68.51 L497.3,77.3Z" fill="#3079bd"/>
<path d="M459.2 68.39V77.3M497.3 68.51V77.3" stroke="#222" stroke-width="0.55" fill="none"/>
<path d="M443.82,77.3 L444.97,77.1 L446.12,76.86 L447.26,76.57 L448.41,76.21 L449.55,75.79 L450.7,75.28 L451.85,74.69 L452.99,74.0 L454.14,73.21 L455.28,72.31 L456.43,71.3 L457.57,70.18 L458.72,68.94 L459.87,67.59 L461.01,66.15 L462.16,64.61 L463.3,63.0 L464.45,61.34 L465.6,59.65 L466.74,57.96 L467.89,56.3 L469.03,54.69 L470.18,53.17 L471.32,51.78 L472.47,50.54 L473.62,49.48 L474.76,48.63 L475.91,48.01 L477.05,47.63 L478.2,47.5 L479.35,47.63 L480.49,48.01 L481.64,48.63 L482.78,49.48 L483.93,50.54 L485.08,51.78 L486.22,53.17 L487.37,54.69 L488.51,56.3 L489.66,57.96 L490.8,59.65 L491.95,61.34 L493.1,63.0 L494.24,64.61 L495.39,66.15 L496.53,67.59 L497.68,68.94 L498.83,70.18 L499.97,71.3 L501.12,72.31 L502.26,73.21 L503.41,74.0 L504.55,74.69 L505.7,75.28 L506.85,75.79 L507.99,76.21 L509.14,76.57 L510.28,76.86 L511.43,77.1 L512.58,77.3" fill="none" stroke="#1a1a1a" stroke-width="1.1"/>
<path d="M478.2 47.7V77.3" stroke="#1a1a1a" stroke-width="1.1" stroke-dasharray="4.1 2.3" fill="none"/>
<path d="M537.8,77.3 L537.8,68.27 L538.73,67.14 L539.66,65.95 L540.6,64.69 L541.53,63.39 L542.46,62.05 L543.39,60.69 L544.33,59.31 L545.26,57.93 L546.19,56.58 L547.12,55.25 L548.06,53.98 L548.99,52.78 L549.92,51.67 L550.86,50.66 L551.79,49.77 L552.72,49.01 L553.65,48.39 L554.59,47.93 L555.52,47.64 L556.45,47.51 L557.38,47.55 L558.31,47.75 L559.25,48.13 L560.18,48.66 L561.11,49.34 L562.04,50.16 L562.98,51.11 L563.91,52.17 L564.84,53.33 L565.77,54.56 L566.71,55.86 L567.64,57.2 L568.57,58.57 L569.5,59.95 L570.44,61.32 L571.37,62.68 L572.3,64.0 L573.24,65.28 L574.17,66.51 L575.1,67.67 L575.1,77.3Z" fill="#e31e26"/>
<path d="M537.8 68.27V77.3M575.1 67.67V77.3" stroke="#222" stroke-width="0.55" fill="none"/>
<path d="M522.33,77.3 L523.47,77.1 L524.62,76.86 L525.76,76.57 L526.91,76.21 L528.05,75.79 L529.2,75.28 L530.35,74.69 L531.49,74.0 L532.64,73.21 L533.78,72.31 L534.93,71.3 L536.08,70.18 L537.22,68.94 L538.37,67.59 L539.51,66.15 L540.66,64.61 L541.8,63.0 L542.95,61.34 L544.1,59.65 L545.24,57.96 L546.39,56.3 L547.53,54.69 L548.68,53.17 L549.83,51.78 L550.97,50.54 L552.12,49.48 L553.26,48.63 L554.41,48.01 L555.55,47.63 L556.7,47.5 L557.85,47.63 L558.99,48.01 L560.14,48.63 L561.28,49.48 L562.43,50.54 L563.58,51.78 L564.72,53.17 L565.87,54.69 L567.01,56.3 L568.16,57.96 L569.3,59.65 L570.45,61.34 L571.6,63.0 L572.74,64.61 L573.89,66.15 L575.03,67.59 L576.18,68.94 L577.33,70.18 L578.47,71.3 L579.62,72.31 L580.76,73.21 L581.91,74.0 L583.05,74.69 L584.2,75.28 L585.35,75.79 L586.49,76.21 L587.64,76.57 L588.78,76.86 L589.93,77.1 L591.08,77.3" fill="none" stroke="#1a1a1a" stroke-width="1.1"/>
<path d="M556.7 47.7V77.3" stroke="#1a1a1a" stroke-width="1.1" stroke-dasharray="4.1 2.3" fill="none"/>
<path d="M442.5 77.4H593" stroke="#1a1a1a" stroke-width="1.2" fill="none"/>
<path d="M513,120.4 L513.0,111.78 L513.97,110.64 L514.93,109.42 L515.9,108.14 L516.87,106.81 L517.84,105.44 L518.81,104.03 L519.77,102.61 L520.74,101.19 L521.71,99.79 L522.67,98.43 L523.64,97.13 L524.61,95.9 L525.58,94.77 L526.55,93.75 L527.51,92.86 L528.48,92.11 L529.45,91.53 L530.41,91.11 L531.38,90.86 L532.35,90.8 L533.32,90.92 L534.29,91.22 L535.25,91.69 L536.22,92.33 L537.19,93.12 L538.15,94.05 L539.12,95.11 L540.09,96.27 L541.06,97.53 L542.03,98.85 L542.99,100.22 L543.96,101.63 L544.93,103.05 L545.89,104.47 L546.86,105.87 L547.83,107.23 L548.8,108.55 L549.77,109.8 L550.73,111.0 L551.7,112.12 L551.7,120.4Z" fill="#e31e26"/>
<path d="M513 111.78V120.4M551.7 112.12V120.4" stroke="#222" stroke-width="0.55" fill="none"/>
<path d="M497.83,120.4 L498.97,120.21 L500.12,119.97 L501.26,119.67 L502.41,119.32 L503.55,118.9 L504.7,118.4 L505.85,117.81 L506.99,117.13 L508.14,116.34 L509.28,115.45 L510.43,114.44 L511.58,113.33 L512.72,112.1 L513.87,110.76 L515.01,109.32 L516.16,107.8 L517.3,106.2 L518.45,104.55 L519.6,102.87 L520.74,101.19 L521.89,99.54 L523.03,97.94 L524.18,96.44 L525.33,95.05 L526.47,93.82 L527.62,92.77 L528.76,91.92 L529.91,91.3 L531.05,90.93 L532.2,90.8 L533.35,90.93 L534.49,91.3 L535.64,91.92 L536.78,92.77 L537.93,93.82 L539.08,95.05 L540.22,96.44 L541.37,97.94 L542.51,99.54 L543.66,101.19 L544.8,102.87 L545.95,104.55 L547.1,106.2 L548.24,107.8 L549.39,109.32 L550.53,110.76 L551.68,112.1 L552.83,113.33 L553.97,114.44 L555.12,115.45 L556.26,116.34 L557.41,117.13 L558.55,117.81 L559.7,118.4 L560.85,118.9 L561.99,119.32 L563.14,119.67 L564.28,119.97 L565.43,120.21 L566.58,120.4" fill="none" stroke="#1a1a1a" stroke-width="1.1"/>
<path d="M532.2 91.00000000000001V120.4" stroke="#1a1a1a" stroke-width="1.1" stroke-dasharray="4.1 2.3" fill="none"/>
<path d="M490.7,120.4 L490.7,111.43 L491.65,110.28 L492.61,109.06 L493.56,107.79 L494.52,106.46 L495.47,105.09 L496.43,103.7 L497.38,102.3 L498.34,100.9 L499.29,99.53 L500.25,98.19 L501.2,96.92 L502.16,95.72 L503.12,94.61 L504.07,93.62 L505.02,92.76 L505.98,92.04 L506.94,91.48 L507.89,91.08 L508.84,90.86 L509.8,90.8 L510.75,90.93 L511.71,91.23 L512.66,91.7 L513.62,92.33 L514.57,93.11 L515.53,94.02 L516.49,95.06 L517.44,96.21 L518.39,97.44 L519.35,98.74 L520.3,100.1 L521.26,101.49 L522.22,102.89 L523.17,104.29 L524.12,105.67 L525.08,107.02 L526.03,108.33 L526.99,109.58 L527.94,110.77 L528.9,111.89 L528.9,120.4Z" fill="#3079bd"/>
<path d="M490.7 111.43V120.4M528.9 111.89V120.4" stroke="#222" stroke-width="0.55" fill="none"/>
<path d="M475.23,120.4 L476.37,120.21 L477.52,119.97 L478.66,119.67 L479.81,119.32 L480.95,118.9 L482.1,118.4 L483.25,117.81 L484.39,117.13 L485.54,116.34 L486.68,115.45 L487.83,114.44 L488.98,113.33 L490.12,112.1 L491.27,110.76 L492.41,109.32 L493.56,107.8 L494.7,106.2 L495.85,104.55 L497.0,102.87 L498.14,101.19 L499.29,99.54 L500.43,97.94 L501.58,96.44 L502.73,95.05 L503.87,93.82 L505.02,92.77 L506.16,91.92 L507.31,91.3 L508.45,90.93 L509.6,90.8 L510.75,90.93 L511.89,91.3 L513.04,91.92 L514.18,92.77 L515.33,93.82 L516.48,95.05 L517.62,96.44 L518.77,97.94 L519.91,99.54 L521.06,101.19 L522.2,102.87 L523.35,104.55 L524.5,106.2 L525.64,107.8 L526.79,109.32 L527.93,110.76 L529.08,112.1 L530.23,113.33 L531.37,114.44 L532.52,115.45 L533.66,116.34 L534.81,117.13 L535.95,117.81 L537.1,118.4 L538.25,118.9 L539.39,119.32 L540.54,119.67 L541.68,119.97 L542.83,120.21 L543.98,120.4" fill="none" stroke="#1a1a1a" stroke-width="1.1"/>
<path d="M509.6 91.00000000000001V120.4" stroke="#1a1a1a" stroke-width="1.1" stroke-dasharray="4.1 2.3" fill="none"/>
<path d="M442.5 120.5H607" stroke="#1a1a1a" stroke-width="1.2" fill="none"/>
<text x="569.8" y="47.3" font-size="11.5" stroke="#000" stroke-width="0.28">pass</text>
<text x="575" y="99.9" font-size="11.4" stroke="#000" stroke-width="0.28">fail</text>
<text x="517.5" y="132.5" font-size="10.1" text-anchor="middle" stroke="#000" stroke-width="0.28">SHAPE reactivity</text>
<text x="429.2" y="153.4" font-size="15" stroke="#000" stroke-width="0.28">Identify significant changes</text>
<text x="640.2" y="153.4" font-size="15.07" stroke="#000" stroke-width="0.28">Find largest changes</text>
<path d="M643.9,120.3 L645.23,120.07 L646.55,119.82 L647.88,119.52 L649.21,119.19 L650.53,118.82 L651.86,118.41 L653.19,117.94 L654.51,117.43 L655.84,116.85 L657.17,116.22 L658.49,115.52 L659.82,114.76 L661.15,113.92 L662.47,113.01 L663.8,112.02 L665.13,110.96 L666.45,109.81 L667.78,108.58 L669.11,107.26 L670.43,105.86 L671.76,104.38 L673.09,102.82 L674.41,101.18 L675.74,99.47 L677.07,97.69 L678.39,95.84 L679.72,93.94 L681.05,91.99 L682.37,89.99 L683.7,87.97 L683.7,120.3Z" fill="#a7a9ac"/>
<path d="M736.4,120.3 L736.4,88.43 L737.72,90.43 L739.03,92.4 L740.35,94.33 L741.67,96.21 L742.98,98.03 L744.3,99.79 L745.62,101.47 L746.93,103.09 L748.25,104.62 L749.57,106.08 L750.88,107.45 L752.2,108.75 L753.52,109.96 L754.83,111.09 L756.15,112.14 L757.47,113.11 L758.78,114.01 L760.1,114.83 L761.42,115.58 L762.73,116.27 L764.05,116.89 L765.37,117.46 L766.68,117.97 L768.0,118.43 L769.32,118.84 L770.63,119.21 L771.95,119.53 L773.27,119.82 L774.58,120.08 L775.9,120.3Z" fill="#a7a9ac"/>
<path d="M643.9,120.3 L646.1,119.91 L648.3,119.42 L650.5,118.83 L652.7,118.12 L654.9,117.27 L657.1,116.25 L659.3,115.07 L661.5,113.69 L663.7,112.1 L665.9,110.3 L668.1,108.27 L670.3,106.01 L672.5,103.52 L674.7,100.82 L676.9,97.92 L679.1,94.84 L681.3,91.61 L683.5,88.28 L685.7,84.89 L687.9,81.49 L690.1,78.15 L692.3,74.93 L694.5,71.89 L696.7,69.09 L698.9,66.6 L701.1,64.48 L703.3,62.77 L705.5,61.52 L707.7,60.76 L709.9,60.5 L712.1,60.76 L714.3,61.52 L716.5,62.77 L718.7,64.48 L720.9,66.6 L723.1,69.09 L725.3,71.89 L727.5,74.93 L729.7,78.15 L731.9,81.49 L734.1,84.89 L736.3,88.28 L738.5,91.61 L740.7,94.84 L742.9,97.92 L745.1,100.82 L747.3,103.52 L749.5,106.01 L751.7,108.27 L753.9,110.3 L756.1,112.1 L758.3,113.69 L760.5,115.07 L762.7,116.25 L764.9,117.27 L767.1,118.12 L769.3,118.83 L771.5,119.42 L773.7,119.91 L775.9,120.3" fill="none" stroke="#1a1a1a" stroke-width="1.1"/>
<path d="M683.7 59.7V120.3M736.4 59.7V120.3" stroke="#1a1a1a" stroke-width="1.1" fill="none"/>
<path d="M709.9 60.8V120.3" stroke="#1a1a1a" stroke-width="1.1" stroke-dasharray="3.7 2.35" fill="none"/>
<path d="M642.5 120.39999999999999H777.5" stroke="#1a1a1a" stroke-width="1.2" fill="none"/>
<text x="683.7" y="56.4" font-size="13.2" text-anchor="middle" font-family='"Liberation Serif", "DejaVu Serif", serif'><tspan font-size="11" dy="0.6">−</tspan><tspan dy="-0.6">σ</tspan></text>
<text x="710" y="56.1" font-size="13" text-anchor="middle" font-family='"Liberation Serif", "DejaVu Serif", serif'>μ</text>
<text x="735.9" y="56.4" font-size="13.2" text-anchor="middle" font-family='"Liberation Serif", "DejaVu Serif", serif'><tspan font-size="13" dy="0.6">+</tspan><tspan dy="-0.6">σ</tspan></text>
<text x="744.8" y="77.9" font-size="11.3" fill="#7c7e81" stroke="#7c7e81" stroke-width="0.28">Substantial</text>
<text x="744.8" y="90.7" font-size="11.3" fill="#7c7e81" stroke="#7c7e81" stroke-width="0.28">differences</text>
<text x="709.8" y="131.8" font-size="10.2" text-anchor="middle" stroke="#000" stroke-width="0.28"><tspan font-size="8.5">Δ</tspan>SHAPE</text>
<path d="M519.3 171.5V183.1H710.7V171.5" fill="none" stroke="#000" stroke-width="2.4"/>
<path d="M615 183V195" fill="none" stroke="#000" stroke-width="2"/>
<path d="M610.9 193.6H619.1L615 200Z" fill="#000"/>
<path d="M593.9,252.7 L593.9,232.1 L598.4,232.1 L598.4,230.7 L601.3,230.7 L601.3,234.3 L605.6,234.3 L605.6,223.1 L608.9,223.1 L608.9,222 L612.5,222 L612.5,217.3 L616.5,217.3 L616.5,239.9 L620.3,239.9 L620.3,252.7Z" fill="#4db14f"/>
<path d="M537.4,252.7 L537.4,248.2 L541.7,248.2 L541.7,252.7 L544.6,252.7 L544.6,255.6 L551.3,255.6 L551.3,257.6 L554.7,257.6 L554.7,255.6 L558,255.6 L558,254.5 L563.6,254.5 L563.6,248.7 L567,248.7 L567,247.5 L571,247.5 L571,246.4 L574.2,246.4 L574.2,250.4 L578.2,250.4 L578.2,253.4 L582.7,253.4 L582.7,252.2 L586,252.2 L586,247.1 L588.7,247.1 L588.7,243.7 L593.9,243.7 L593.9,232.1 L598.4,232.1 L598.4,230.7 L601.3,230.7 L601.3,234.3 L605.6,234.3 L605.6,223.1 L608.9,223.1 L608.9,222 L612.5,222 L612.5,217.3 L616.5,217.3 L616.5,239.9 L620.3,239.9 L620.3,247.8 L624.6,247.8 L624.6,252 L627.5,252 L627.5,253.8 L631.7,253.8 L631.7,252.2 L639.1,252.2 L639.1,249.3 L643.2,249.3 L643.2,243.7 L646.3,243.7 L646.3,242.6 L651.5,242.6 L651.5,244.2 L654.8,244.2 L654.8,249.3 L658.2,249.3 L658.2,250.7 L662,250.7 L662,251.3 L669.4,251.3 L669.4,250.2 L673.2,250.2 L673.2,251.1 L676.6,251.1 L676.6,249.8 L681.3,249.8 L681.3,251.1 L684.7,251.1 L684.7,250.2 L688.5,250.2 L688.5,251.3 L692.5,251.3 L692.5,252.7" fill="none" stroke="#1a1a1a" stroke-width="0.9"/>
<path d="M537.4 209V265.7M537.4 252.7H692.5" fill="none" stroke="#1a1a1a" stroke-width="1"/>
<text x="493.8" y="285.3" font-size="15.08" stroke="#000" stroke-width="0.28">Highlight strong, significant changes</text>
</svg>
</body>
</html>
